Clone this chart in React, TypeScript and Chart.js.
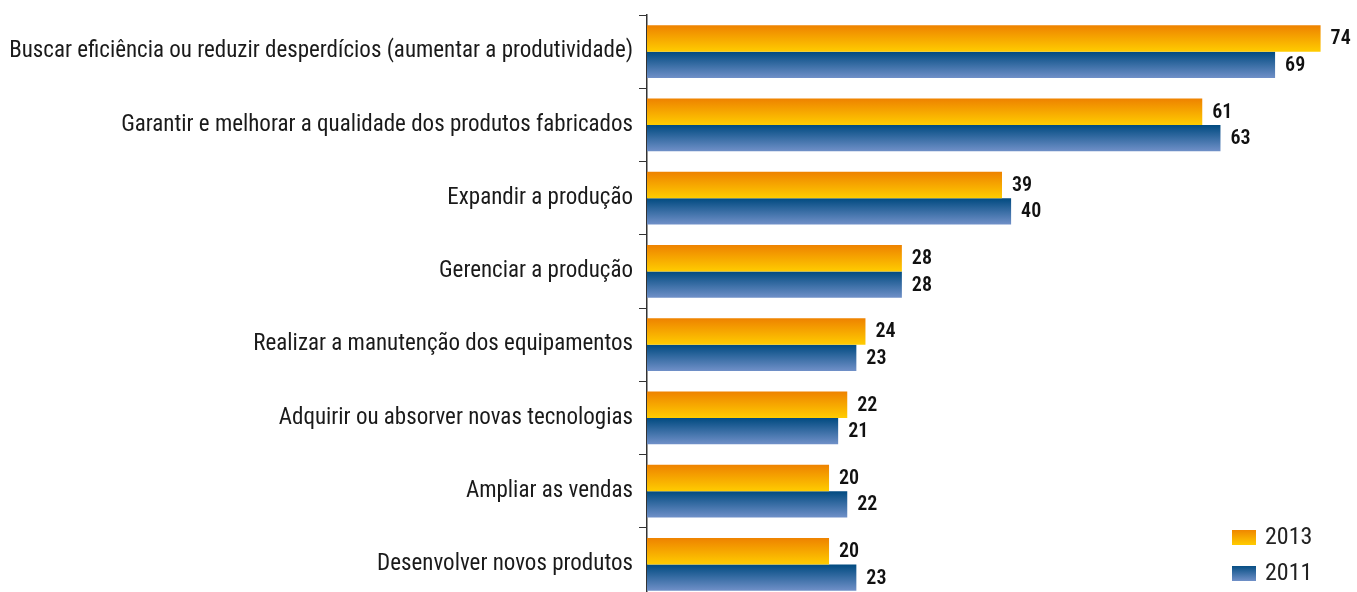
import React, { useEffect, useRef } from "react";
import { Chart, registerables } from "chart.js";

Chart.register(...registerables);

const categories = [
  "Buscar eficiência ou reduzir desperdícios (aumentar a produtividade)",
  "Garantir e melhorar a qualidade dos produtos fabricados",
  "Expandir a produção",
  "Gerenciar a produção",
  "Realizar a manutenção dos equipamentos",
  "Adquirir ou absorver novas tecnologias",
  "Ampliar as vendas",
  "Desenvolver novos produtos",
];
const series2013 = [74, 61, 39, 28, 24, 22, 20, 20];
const series2011 = [69, 63, 40, 28, 23, 21, 22, 23];
const seriesNames = ["2013", "2011"];

const FONT = "'Liberation Sans Narrow', 'Roboto Condensed', 'Liberation Sans', sans-serif";
const CAT_PCT = 0.72;
const grads = [
  ["#EE8200", "#FFCC00"],
  ["#004A80", "#7090C8"],
];

function barGradient(ctx: any) {
  const chart = ctx.chart;
  const y = chart.scales && chart.scales.y;
  if (!y || !chart.chartArea || ctx.dataIndex === undefined) return grads[ctx.datasetIndex][0];
  const band = (y.bottom - y.top) / categories.length;
  const center = y.getPixelForValue(ctx.dataIndex);
  const h = (band * CAT_PCT) / 2;
  const top = ctx.datasetIndex === 0 ? center - h : center;
  const g = chart.ctx.createLinearGradient(0, top, 0, top + h);
  g.addColorStop(0, grads[ctx.datasetIndex][0]);
  g.addColorStop(1, grads[ctx.datasetIndex][1]);
  return g;
}

const valueLabels = {
  id: "valueLabels",
  afterDatasetsDraw(chart: any) {
    const { ctx } = chart;
    ctx.save();
    ctx.font = `600 20px ${FONT}`;
    ctx.fillStyle = "#111";
    ctx.textAlign = "left";
    ctx.textBaseline = "middle";
    chart.data.datasets.forEach((ds: any, i: number) => {
      const meta = chart.getDatasetMeta(i);
      meta.data.forEach((bar: any, j: number) => {
        ctx.fillText(String(ds.data[j]), bar.x + 10, bar.y + 1);
      });
    });
    ctx.restore();
  },
};

const customLegend = {
  id: "customLegend",
  afterDraw(chart: any) {
    const { ctx } = chart;
    ctx.save();
    ctx.font = `24px ${FONT}`;
    ctx.textBaseline = "middle";
    ctx.textAlign = "left";
    const ys = [537, 573];
    seriesNames.forEach((name, i) => {
      const y = ys[i];
      const g = ctx.createLinearGradient(0, y - 8, 0, y + 8);
      g.addColorStop(0, grads[i][0]);
      g.addColorStop(1, grads[i][1]);
      ctx.fillStyle = g;
      ctx.fillRect(1232, y - 7, 24, 15);
      ctx.fillStyle = "#222";
      ctx.fillText(name, 1265, y + 1);
    });
    ctx.restore();
  },
};

export default function App() {
  const ref = useRef<HTMLCanvasElement>(null);
  useEffect(() => {
    if (!ref.current) return;
    const chart = new Chart(ref.current, {
      type: "bar",
      data: {
        labels: categories,
        datasets: [
          { label: seriesNames[0], data: series2013, backgroundColor: barGradient, categoryPercentage: CAT_PCT, barPercentage: 1 },
          { label: seriesNames[1], data: series2011, backgroundColor: barGradient, categoryPercentage: CAT_PCT, barPercentage: 1 },
        ],
      },
      options: {
        indexAxis: "y",
        animation: false,
        responsive: false,
        maintainAspectRatio: false,
        layout: { padding: { top: 15, bottom: 2, left: 0, right: 0 } },
        plugins: { legend: { display: false }, tooltip: { enabled: false } },
        scales: {
          x: {
            display: false,
            min: 0,
            max: 78,
          },
          y: {
            offset: true,
            grid: {
              drawOnChartArea: false,
              tickLength: 8,
              color: "#333",
              offset: true,
            },
            border: { display: true, color: "#333", width: 1.5 },
            ticks: {
              color: "#1a1a1a",
              font: { family: FONT, size: 23 },
              padding: 6,
            },
            afterFit(scale: any) {
              scale.width = 647;
              scale.paddingTop = 0;
              scale.paddingBottom = 0;
            },
          },
        },
      },
      plugins: [valueLabels, customLegend],
    });
    return () => chart.destroy();
  }, []);
  return (
    <div style={{ position: "fixed", left: 0, top: 0, width: 1357, height: 592, overflow: "hidden", background: "#fff" }}>
      <canvas ref={ref} width={1357} height={603} style={{ display: "block" }} />
    </div>
  );
}
